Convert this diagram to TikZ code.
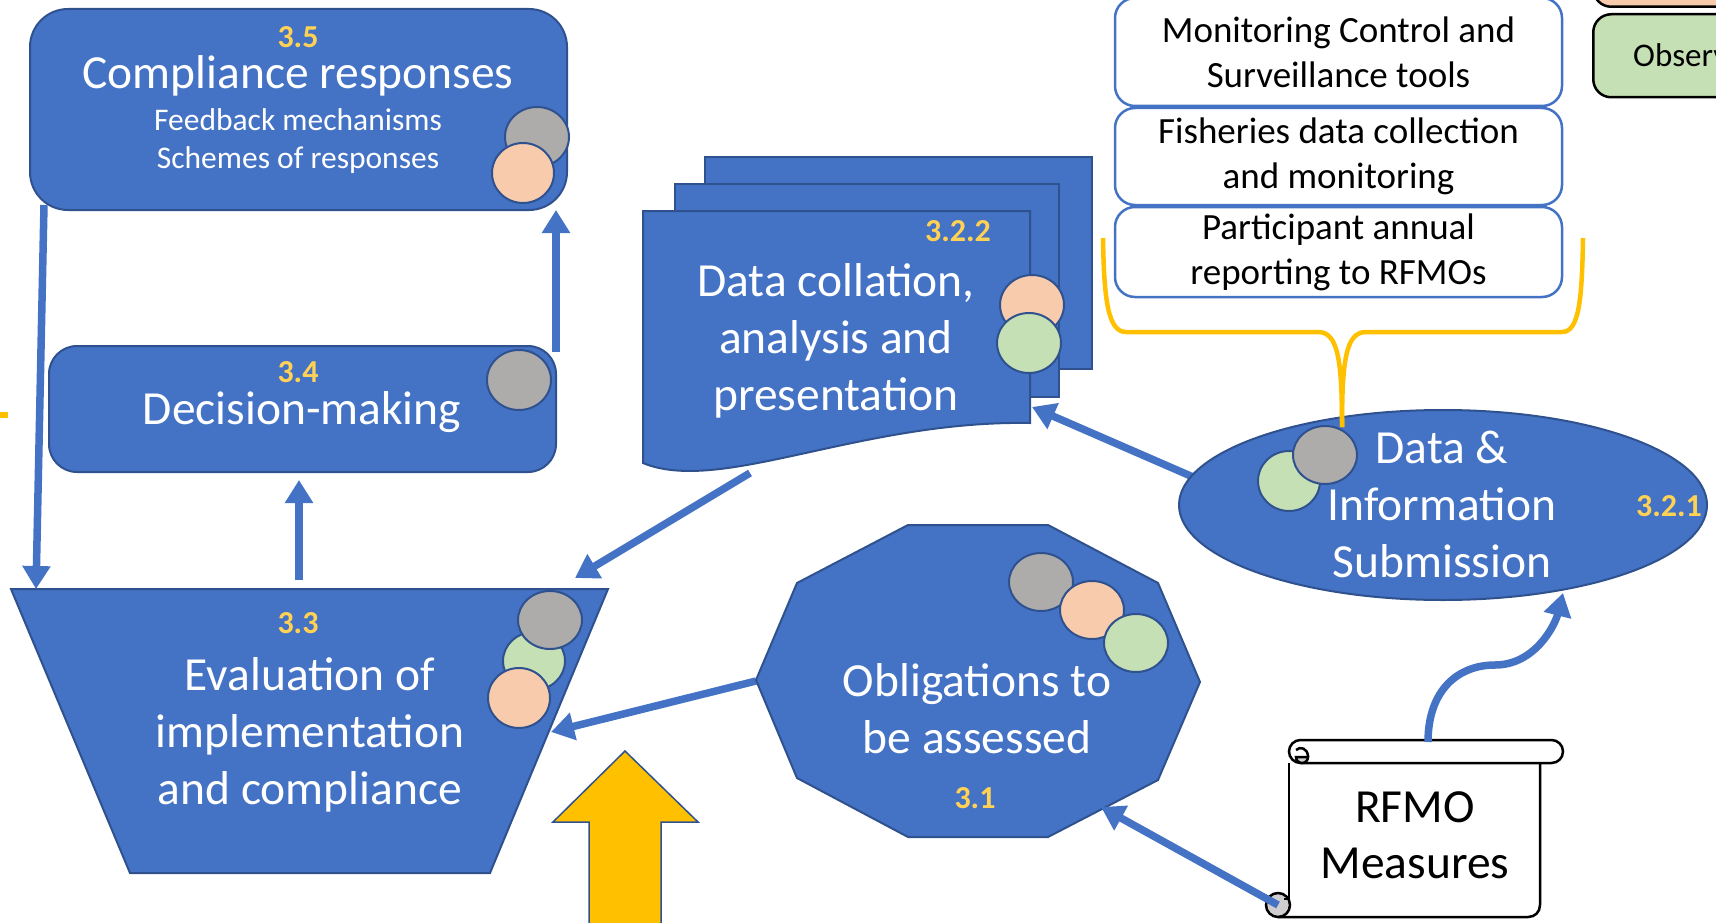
\documentclass[tikz,border=0pt]{standalone}
\usepackage{fontspec}
\setmainfont{Carlito}
\usetikzlibrary{arrows.meta,shapes.geometric,calc}
\definecolor{bfill}{HTML}{4472C4}
\definecolor{bedge}{HTML}{2F528F}
\definecolor{gold}{RGB}{255,210,85}
\definecolor{ygold}{HTML}{FFC000}
\definecolor{cgray}{HTML}{AEABAB}
\definecolor{cpeach}{HTML}{F8CBAD}
\definecolor{cgreen}{HTML}{C5E0B4}
\definecolor{sgray}{HTML}{D0CECE}
\begin{document}
\begin{tikzpicture}[x=1pt,y=-1pt,
  shp/.style={fill=bfill, draw=bedge, line width=2pt},
  conn/.style={draw=bfill, line width=7.5pt, -{Triangle[length=23pt,width=27pt]}},
  dot/.style={draw=bedge, line width=2pt},
  big/.style={font=\fontsize{47.5}{57}\selectfont, text=white, align=center, inner sep=0pt},
  num/.style={font=\fontsize{32}{38}\selectfont\bfseries, text=gold, inner sep=0pt},
  small/.style={font=\fontsize{31.5}{38.5}\selectfont, text=white, align=center, inner sep=0pt},
  tbox/.style={draw=bfill, line width=2.5pt, fill=white, rounded corners=20pt, font=\fontsize{37}{45}\selectfont, align=center, inner sep=0pt, minimum width=447pt},
  scroll/.style={draw=black, line width=2.5pt},
]
\useasboundingbox (0,0) rectangle (1716,923);
\clip (0,0) rectangle (1716,923);

% ---------- legend (cut off at right) ----------
\node[draw=black, line width=2.5pt, fill=cpeach, rounded corners=18pt, minimum width=200pt, minimum height=80pt, anchor=south west] (lpeach) at (1592,8) {};
\node[draw=black, line width=2.5pt, fill=cgreen, rounded corners=18pt, minimum width=200pt, minimum height=83pt, anchor=north west] (lgreen) at (1592,13) {};
\node[anchor=west, inner sep=0pt, font=\fontsize{33}{40}\selectfont] (lgreent) at (1633,55) {Observ};

% small orange mark at the left edge
\fill[ygold] (0,412) rectangle (8,418);

% ---------- top right boxes ----------
\node[tbox, minimum height=108pt] (mcs) at (1338.5,52) {Monitoring Control and\\Surveillance tools};
\node[tbox, minimum height=97pt] (fdc) at (1338.5,156.5) {Fisheries data collection\\and monitoring};
\node[tbox, minimum height=90pt] (par) at (1338.5,252) {Participant annual\\reporting to RFMOs};

% ---------- connector coordinates ----------
\coordinate (compBL) at (44,205);
\coordinate (evalTL) at (36,589);
\coordinate (decTR) at (556,352);
\coordinate (compBR) at (556,210);
\coordinate (evalT) at (299,580);
\coordinate (decB) at (299,480);
\coordinate (docB) at (750,473);
\coordinate (evalTR) at (575,578);
\coordinate (oblL) at (756,681);
\coordinate (evalR) at (551,732);
\coordinate (rfmoBL) at (1278,905);
\coordinate (oblBR) at (1101,807);
\coordinate (rfmoT) at (1428,742);
\coordinate (disB) at (1563,593);
\coordinate (disL) at (1193,477);
\coordinate (docR) at (1032,407);

% lines drawn under the shapes
\draw[conn] (compBL) -- (evalTL);
\draw[conn] (decTR) -- (compBR);
\draw[conn] (evalT) -- (decB);
\draw[conn] (docB) -- (evalTR);
\draw[conn] (oblL) -- (evalR);
\draw[conn] (disL) -- (docR);

% ---------- 3.5 Compliance responses ----------
\node[shp, rounded corners=38pt, minimum width=537pt, minimum height=201pt, inner sep=0pt] (comp) at (298.5,109.5) {};
\node[num] (n35) at (298,37) {3.5};
\node[big] (compt) at (298,76) {Compliance responses};
\node[small] (comps) at (298,141) {Feedback mechanisms\\Schemes of responses};
\draw[dot, fill=cgray] (537,137) ellipse [x radius=32, y radius=30];
\draw[dot, fill=cpeach] (523,173) ellipse [x radius=31, y radius=30];

% ---------- 3.4 Decision-making ----------
\node[shp, rounded corners=28pt, minimum width=507pt, minimum height=126pt, inner sep=0pt] (dec) at (302.5,409) {};
\node[num] (n34) at (298,372) {3.4};
\node[big] (dect) at (302,412) {Decision-making};
\draw[dot, fill=cgray] (519,380) ellipse [x radius=32, y radius=30];

% ---------- 3.3 Evaluation ----------
\path[shp] (11,589) -- (608,589) -- (490,873) -- (130,873) -- cycle;
\node[num] (n33) at (298,623) {3.3};
\node[big] (evalt) at (310,735) {Evaluation of\\implementation\\and compliance};
\draw[dot, fill=cgreen] (534,661) ellipse [x radius=31, y radius=29];
\draw[dot, fill=cgray] (550,620) ellipse [x radius=32, y radius=29];
\draw[dot, fill=cpeach] (519,698) ellipse [x radius=31, y radius=30];

% big yellow block arrow
\path[fill=ygold, draw=bedge, line width=1.5pt] (589,935) -- (589,822) -- (553,822) -- (625,751) -- (698,822) -- (661,822) -- (661,935) -- cycle;

% ---------- 3.2.2 Data collation (multidocument) ----------
\path[shp] (705,157) rectangle (1092,369);
\path[shp] (675,184) rectangle (1059,397);
\path[shp] (643,211) -- (1030,211) -- (1030,423) .. controls (860,420) and (720,495) .. (643,463) -- cycle;
\node[num] (n322) at (958,231) {3.2.2};
\node[big] (doct) at (836,341) {Data collation,\\analysis and\\presentation};
\draw[dot, fill=cpeach] (1032,305) ellipse [x radius=32, y radius=30];
\draw[dot, fill=cgreen] (1029,343) ellipse [x radius=32, y radius=30];

% ---------- 3.2.1 Data & Information Submission ----------
\node[ellipse, shp, minimum width=528pt, minimum height=190pt, inner sep=0pt] (dis) at (1443,505) {};
\node[big] (dist) at (1442,504.5) {Data \&\\Information\\Submission};
\node[num] (n321) at (1669,506) {3.2.1};

% yellow brace
\draw[ygold, line width=4.5pt] (1103,238) .. controls (1104,300) and (1108,332) .. (1126,332) -- (1318,332) .. controls (1338,332) and (1342,360) .. (1342,427);
\draw[ygold, line width=4.5pt] (1342,427) .. controls (1342,360) and (1346,332) .. (1366,332) -- (1562,332) .. controls (1579,332) and (1582,300) .. (1583,238);

\draw[dot, fill=cgreen] (1289,481) ellipse [x radius=31, y radius=30];
\draw[dot, fill=cgray] (1325,455) ellipse [x radius=32, y radius=29];

% ---------- 3.1 Obligations (decagon) ----------
\path[shp] (908,525) -- (1048,525) -- (1158,583) -- (1200,682) -- (1158,780) -- (1048,837) -- (908,837) -- (797,778) -- (756,680) -- (797,583) -- cycle;
\node[big] (oblt) at (977,709) {Obligations to\\be assessed};
\node[num] (n31) at (975,798) {3.1};
\draw[dot, fill=cgray] (1041,582) ellipse [x radius=32, y radius=29];
\draw[dot, fill=cpeach] (1092,610) ellipse [x radius=32, y radius=29];
\draw[dot, fill=cgreen] (1136,643) ellipse [x radius=32, y radius=29];

% ---------- RFMO Measures scroll ----------
\fill[white] (1289,752) rectangle (1540,917);
\draw[scroll] (1289,763) -- (1289,905);
\draw[scroll] (1540,763) -- (1540,905) .. controls (1540,912) and (1535,917) .. (1528,917) -- (1278,917);
\draw[scroll, fill=white, rounded corners=11.5pt] (1289,740) rectangle (1563,763);
\draw[scroll, fill=sgray] (1296,757) arc [start angle=180, end angle=0, radius=6] -- cycle;
\draw[scroll] (1308,757) .. controls (1308,748) and (1300,746) .. (1296,750);
\draw[scroll, fill=sgray] (1278,905) circle [radius=12];
\draw[scroll] (1284,899) -- (1289,899);
\node[font=\fontsize{47.5}{56}\selectfont, align=center, inner sep=0pt] (rfmo) at (1415,835) {RFMO\\Measures};

% connectors from the scroll
\draw[conn] (rfmoBL) -- (oblBR);
\draw[conn] (rfmoT) .. controls (1428,690) and (1458,665) .. (1495,665) .. controls (1535,665) and (1555,625) .. (disB);
\end{tikzpicture}
\end{document}
